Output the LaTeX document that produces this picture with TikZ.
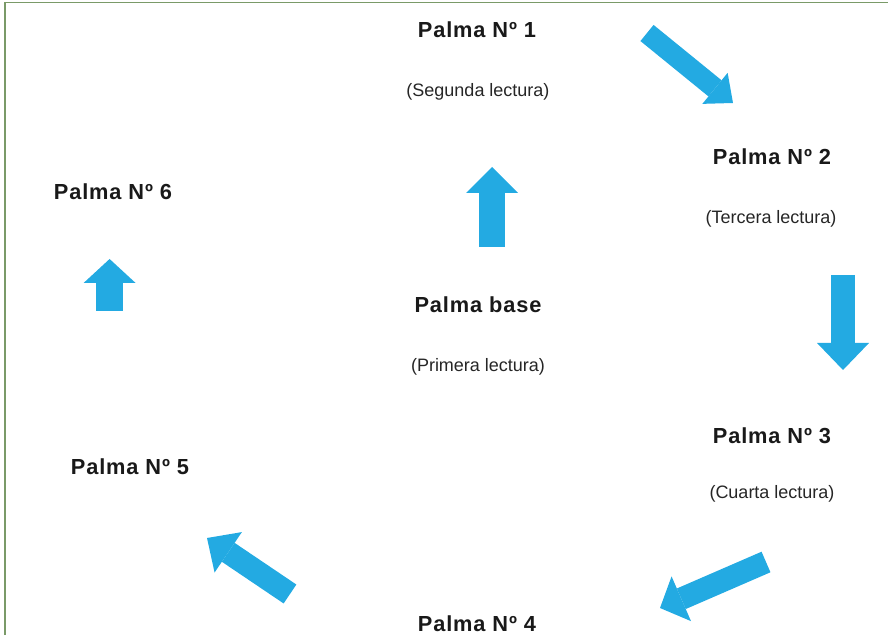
\documentclass[tikz,border=0pt]{standalone}
\usepackage{fontspec}
\setmainfont{Liberation Sans}
\newfontfamily\palmafont[LetterSpace=4]{Liberation Sans}
\definecolor{palmblue}{RGB}{35,170,226}
\definecolor{palmframe}{RGB}{122,154,104}
\usetikzlibrary{arrows.meta,positioning}

\begin{document}
\begin{tikzpicture}[
  etiqueta/.style={font=\palmafont\bfseries\fontsize{15.5}{18}\selectfont,text=black!90,inner sep=0pt},
  lectura/.style={font=\fontsize{12.8}{15}\selectfont,text=black!85,inner sep=0pt},
  flecha/.style n args={3}{draw=palmblue,line width=#1,line cap=butt,
    -{Triangle[width=#2,length=#3,line width=0pt]}}
]
  \useasboundingbox (0,0) rectangle (22.2,15.875);
  % frame (left and top only)
  \draw[palmframe,line width=1.2pt] (0.12,0) -- (0.12,15.8125) -- (22.2,15.8125);
  % labels
  \node[etiqueta] (palma1) at (11.925,15.125) {Palma Nº 1};
  \node[lectura] (lect1) at (11.95,13.575) {(Segunda lectura)};
  \node[etiqueta] (palma2) at (19.3,11.95) {Palma Nº 2};
  \node[lectura] (lect2) at (19.275,10.4) {(Tercera lectura)};
  \node[etiqueta] (palma6) at (2.825,11.075) {Palma Nº 6};
  \node[etiqueta] (base) at (11.95,8.25) {Palma base};
  \node[lectura] (lect0) at (11.95,6.7) {(Primera lectura)};
  \node[etiqueta] (palma3) at (19.3,4.975) {Palma Nº 3};
  \node[lectura] (lect3) at (19.3,3.525) {(Cuarta lectura)};
  \node[etiqueta] (palma5) at (3.25,4.2) {Palma Nº 5};
  \node[etiqueta] (palma4) at (11.925,0.275) {Palma Nº 4};
  % arrow ends
  \coordinate (c0) at (12.3,9.7);    \coordinate (p0) at (12.3,11.7);
  \coordinate (c1) at (16.175,15.05); \coordinate (p1) at (18.325,13.3);
  \coordinate (c2) at (21.075,9.0);  \coordinate (p2) at (21.075,6.625);
  \coordinate (c3) at (19.15,1.825); \coordinate (p3) at (16.5,0.675);
  \coordinate (c4) at (7.25,1.025);  \coordinate (p4) at (5.175,2.425);
  \coordinate (c5) at (2.74,8.1);    \coordinate (p5) at (2.74,9.4);
  % arrows
  \draw[flecha={0.65cm}{1.3cm}{0.65cm}] (c0) -- (p0);
  \draw[flecha={0.52cm}{1.0cm}{0.58cm}] (c1) -- (p1);
  \draw[flecha={0.6cm}{1.3cm}{0.675cm}] (c2) -- (p2);
  \draw[flecha={0.56cm}{1.22cm}{0.58cm}] (c3) -- (p3);
  \draw[flecha={0.57cm}{1.22cm}{0.64cm}] (c4) -- (p4);
  \draw[flecha={0.675cm}{1.3cm}{0.6cm}] (c5) -- (p5);
\end{tikzpicture}
\end{document}
